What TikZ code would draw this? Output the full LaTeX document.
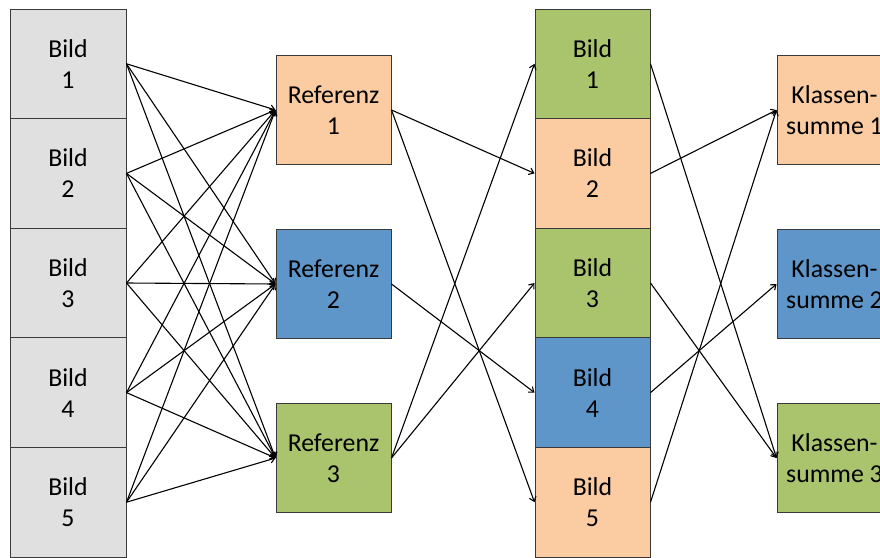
\documentclass[tikz,border=0pt]{standalone}
\usepackage{fontspec}
\setmainfont{Carlito}
\usetikzlibrary{arrows.meta}
\definecolor{cgrey}{HTML}{E0E0E0}
\definecolor{corange}{HTML}{FBCBA1}
\definecolor{cblue}{HTML}{5F96C9}
\definecolor{cgreen}{HTML}{AAC46E}
\definecolor{cborder}{HTML}{3A3A3A}
\tikzset{
  box/.style={draw=cborder, line width=1pt, minimum width=116pt, minimum height=109.6pt,
    inner sep=0pt, align=center, font=\fontsize{25.8}{31}\selectfont},
  conn/.style={line width=1.1pt, -{Straight Barb[length=4.5pt,width=7pt]}},
}
\begin{document}
\begin{tikzpicture}[x=1pt,y=-1pt]
\useasboundingbox (0,0) rectangle (880,557);
% left column
\foreach \i in {1,...,5} {
  \node[box, fill=cgrey] (b\i) at (68, {9+54.8+(\i-1)*109.6}) {Bild\\\i};
}
% references
\node[box, fill=corange, minimum width=115pt] (r1) at (333.5,110) {Referenz\\1};
\node[box, fill=cblue, minimum width=115pt] (r2) at (333.5,284) {Referenz\\2};
\node[box, fill=cgreen, minimum width=115pt] (r3) at (333.5,458) {Referenz\\3};
% middle column
\node[box, fill=cgreen, minimum width=115pt] (m1) at (592.5,63.8) {Bild\\1};
\node[box, fill=corange, minimum width=115pt] (m2) at (592.5,173.4) {Bild\\2};
\node[box, fill=cgreen, minimum width=115pt] (m3) at (592.5,283) {Bild\\3};
\node[box, fill=cblue, minimum width=115pt] (m4) at (592.5,392.6) {Bild\\4};
\node[box, fill=corange, minimum width=115pt] (m5) at (592.5,502.2) {Bild\\5};
% class sums
\node[box, fill=corange, minimum width=115pt] (k1) at (834.5,110) {Klassen-\\summe 1};
\node[box, fill=cblue, minimum width=115pt] (k2) at (834.5,284) {Klassen-\\summe 2};
\node[box, fill=cgreen, minimum width=115pt] (k3) at (834.5,458) {Klassen-\\summe 3};
% connections left -> references
\foreach \i in {1,...,5} {
  \foreach \j in {1,2,3} {
    \draw[conn] (b\i.east) -- (r\j.west);
  }
}
% references -> middle
\draw[conn] (r1.east) -- (m2.west);
\draw[conn] (r1.east) -- (m5.west);
\draw[conn] (r2.east) -- (m4.west);
\draw[conn] (r3.east) -- (m1.west);
\draw[conn] (r3.east) -- (m3.west);
% middle -> class sums
\draw[conn] (m1.east) -- (k3.west);
\draw[conn] (m2.east) -- (k1.west);
\draw[conn] (m3.east) -- (k3.west);
\draw[conn] (m4.east) -- (k2.west);
\draw[conn] (m5.east) -- (k1.west);
\end{tikzpicture}
\end{document}
